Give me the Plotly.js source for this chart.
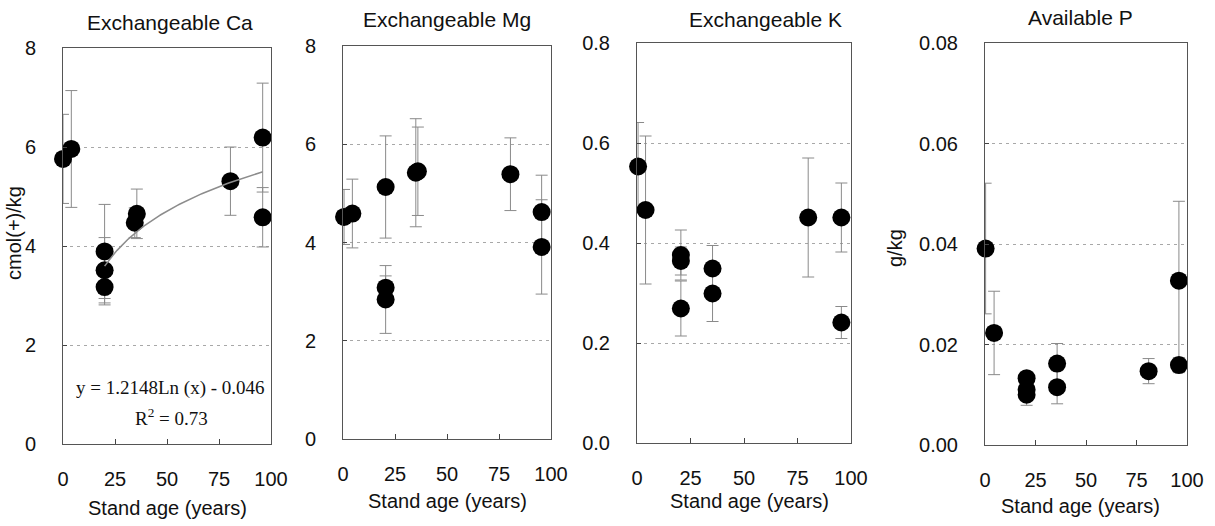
<!DOCTYPE html>
<html>
<head>
<meta charset="utf-8">
<script src="https://cdn.plot.ly/plotly-3.0.1.min.js"></script>
<style>
html,body{margin:0;padding:0;background:#fff;}
#chart{width:1215px;height:526px;}
</style>
</head>
<body>
<div id="chart"></div>
<script>
// ---------- DATA ----------
const panelTitles = ["Exchangeable Ca", "Exchangeable Mg", "Exchangeable K", "Available P"];
const xTickVals = [0, 25, 50, 75, 100];
const xTickText = ["0", "25", "50", "75", "100"];
const xAxisLabel = "Stand age (years)";
const yAxisLabels = ["cmol(+)/kg", "", "", "g/kg"];

const caAge = [0, 4, 20, 20, 20, 34.5, 35.5, 80.5, 96, 96];
const caValue = [5.76, 5.96, 3.89, 3.51, 3.17, 4.47, 4.65, 5.31, 6.19, 4.58];
const caError = [0.90, 1.18, 0.95, 0.66, 0.36, 0.30, 0.50, 0.69, 1.10, 0.60];

const mgAge = [0.5, 4.5, 20.5, 20.5, 20.5, 35, 36, 80.5, 95.5, 95.5];
const mgValue = [4.52, 4.59, 5.13, 3.08, 2.84, 5.42, 5.45, 5.39, 4.62, 3.91];
const mgError = [0.56, 0.70, 1.04, 0.24, 0.69, 1.10, 0.90, 0.74, 0.75, 0.96];

const kAge = [0.5, 4, 20.5, 20.5, 20.5, 35.3, 35.3, 80, 95.5, 95.5];
const kValue = [0.553, 0.466, 0.376, 0.364, 0.269, 0.349, 0.299, 0.451, 0.451, 0.241];
const kError = [0.088, 0.148, 0.050, 0.028, 0.055, 0.046, 0.056, 0.119, 0.069, 0.032];

const pAge = [0.3, 4.5, 20.6, 20.6, 20.6, 35.7, 35.7, 81, 96, 96];
const pValue = [0.0391, 0.0223, 0.0133, 0.0110, 0.0100, 0.0162, 0.0115, 0.0147, 0.0327, 0.0159];
const pError = [0.0130, 0.0083, 0.0010, 0.0010, 0.0021, 0.0040, 0.0033, 0.0025, 0.0158, 0.0015];

const yRanges = [[0, 8], [0, 8], [0, 0.8], [0, 0.08]];
const yTickVals = [[0, 2, 4, 6, 8], [0, 2, 4, 6, 8], [0, 0.2, 0.4, 0.6, 0.8], [0, 0.02, 0.04, 0.06, 0.08]];
const yTickText = [["0", "2", "4", "6", "8"], ["0", "2", "4", "6", "8"],
                   ["0.0", "0.2", "0.4", "0.6", "0.8"], ["0.00", "0.02", "0.04", "0.06", "0.08"]];

// Logarithmic trend line printed on the Ca panel: y = a*Ln(x) + b, drawn for x in [20, 96]
const caTrendCoef = [1.2148, -0.046];
const caTrendAgeSpan = [20, 96];
const caTrendText = ["y = 1.2148Ln (x) - 0.046", "R<sup>2</sup> = 0.73"];

// ---------- LAYOUT HELPERS ----------
const W = 1215, H = 526;
const px = v => v / W;
const py = v => 1 - v / H;
// plot frames in pixels [left, right, top, bottom]
const frames = [[63, 271, 48, 444], [343, 551, 46, 439], [637, 851, 43, 443], [985, 1187, 43, 445]];

const FONT = "Liberation Sans, Arial, sans-serif";
const series = [
  [caAge, caValue, caError],
  [mgAge, mgValue, mgError],
  [kAge, kValue, kError],
  [pAge, pValue, pError]
];

const traces = [];
series.forEach((s, i) => {
  const n = i === 0 ? "" : String(i + 1);
  traces.push({
    type: "scatter", mode: "markers",
    x: s[0], y: s[1],
    xaxis: "x" + n, yaxis: "y" + n,
    cliponaxis: false,
    marker: {size: 18, color: "#000", line: {width: 0}},
    error_y: {type: "data", array: s[2], visible: true, color: "#8a8a8a", thickness: 1, width: 6},
    showlegend: false, hoverinfo: "skip"
  });
});

// trend curve from the printed equation
const trendX = [], trendY = [];
for (let a = caTrendAgeSpan[0]; a <= caTrendAgeSpan[1]; a += 1) {
  trendX.push(a);
  trendY.push(caTrendCoef[0] * Math.log(a) + caTrendCoef[1]);
}
traces.push({
  type: "scatter", mode: "lines", x: trendX, y: trendY,
  xaxis: "x", yaxis: "y",
  line: {color: "#8c8c8c", width: 1.5},
  showlegend: false, hoverinfo: "skip"
});

const layout = {
  width: W, height: H,
  margin: {l: 0, r: 0, t: 0, b: 0},
  paper_bgcolor: "#fff", plot_bgcolor: "#fff",
  showlegend: false,
  font: {family: FONT, color: "#111", size: 20},
  annotations: [],
  shapes: []
};

frames.forEach((f, i) => {
  const n = i === 0 ? "" : String(i + 1);
  layout["xaxis" + n] = {
    domain: [px(f[0]), px(f[1])],
    anchor: "y" + n,
    range: [0, 100],
    tickmode: "array", tickvals: xTickVals, ticktext: xTickText,
    ticks: "inside", ticklen: 5, tickcolor: "#444", tickwidth: 1,
    ticklabelstandoff: 17,
    tickfont: {family: FONT, size: 20, color: "#111"},
    showline: true, linecolor: "#555", linewidth: 1, mirror: true,
    showgrid: false, zeroline: false, fixedrange: true
  };
  layout["yaxis" + n] = {
    domain: [py(f[3]), py(f[2])],
    anchor: "x" + n,
    range: yRanges[i],
    tickmode: "array", tickvals: yTickVals[i], ticktext: yTickText[i],
    ticks: "inside", ticklen: 4, tickcolor: "#444", tickwidth: 1,
    ticklabelstandoff: 22,
    tickfont: {family: FONT, size: 20, color: "#111"},
    showline: true, linecolor: "#555", linewidth: 1, mirror: true,
    showgrid: true, gridcolor: "#a8a8a8", gridwidth: 1, griddash: "3px,4px",
    zeroline: false, fixedrange: true
  };
});

// panel titles
const titlePos = [[170, 22], [447, 20], [765, 19], [1080, 17]];
panelTitles.forEach((t, i) => {
  layout.annotations.push({
    text: t, xref: "paper", yref: "paper",
    x: px(titlePos[i][0]), y: py(titlePos[i][1]),
    xanchor: "center", yanchor: "middle", showarrow: false,
    font: {family: FONT, size: 21, color: "#111"}
  });
});
// x-axis titles
const xTitlePos = [[167, 508], [447, 501], [749, 501], [1080, 506]];
xTitlePos.forEach(p => {
  layout.annotations.push({
    text: xAxisLabel, xref: "paper", yref: "paper",
    x: px(p[0]), y: py(p[1]), xanchor: "center", yanchor: "middle", showarrow: false,
    font: {family: FONT, size: 20, color: "#111"}
  });
});
// y-axis titles
const yTitlePos = [[14, 233], null, null, [895, 248]];
yAxisLabels.forEach((t, i) => {
  if (!t) return;
  layout.annotations.push({
    text: t, xref: "paper", yref: "paper",
    x: px(yTitlePos[i][0]), y: py(yTitlePos[i][1]), xanchor: "center", yanchor: "middle",
    textangle: -90, showarrow: false,
    font: {family: FONT, size: 20, color: "#111"}
  });
});
// equation text
layout.annotations.push({
  text: caTrendText[0], xref: "paper", yref: "paper",
  x: px(170), y: py(388), xanchor: "center", yanchor: "middle", showarrow: false,
  font: {family: "Liberation Serif, Times New Roman, serif", size: 19, color: "#111"}
});
layout.annotations.push({
  text: caTrendText[1], xref: "paper", yref: "paper",
  x: px(171), y: py(417), xanchor: "center", yanchor: "middle", showarrow: false,
  font: {family: "Liberation Serif, Times New Roman, serif", size: 19, color: "#111"}
});

Plotly.newPlot("chart", traces, layout, {staticPlot: true, displayModeBar: false});
</script>
</body>
</html>
